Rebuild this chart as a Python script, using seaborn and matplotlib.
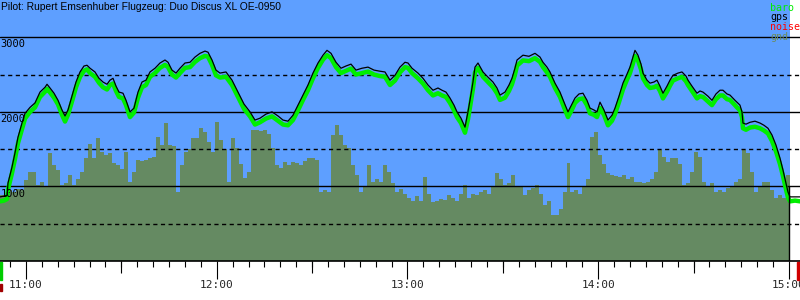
import numpy as np
import pandas as pd
import matplotlib
matplotlib.use("Agg")
import matplotlib.pyplot as plt
from matplotlib.patches import Rectangle
from matplotlib.ticker import FixedLocator
import seaborn as sns

sns.set_theme(style="white")
plt.rcParams['font.family'] = ['DejaVu Sans']

# ---------------- data ----------------
title = "Pilot: Rupert Emsenhuber Flugzeug: Duo Discus XL OE-0950"

# minutes after 11:00
minutes = [
    -8.18, -6.92, -5.98, -5.66, -4.40, -3.46, -2.52, -1.26, -0.31, 1.26,
    2.83, 4.40, 5.98, 6.61, 7.55, 8.81, 10.07, 11.32, 12.27, 13.21,
    14.47, 15.73, 16.99, 18.24, 19.19, 20.13, 21.70, 22.96, 24.22, 25.48,
    26.42, 27.37, 28.31, 29.25, 30.51, 31.46, 32.71, 33.97, 35.23, 36.49,
    37.75, 39.00, 40.58, 42.15, 43.72, 44.67, 45.92, 47.18, 48.44, 50.01,
    51.59, 53.16, 54.73, 56.30, 57.25, 58.51, 59.76, 61.02, 62.91, 64.80,
    66.68, 68.57, 70.46, 72.03, 73.60, 75.49, 77.38, 79.27, 80.84, 82.41,
    83.98, 85.56, 87.13, 88.70, 90.27, 91.85, 93.42, 94.68, 95.94, 97.51,
    99.08, 100.66, 102.23, 103.80, 105.69, 107.58, 109.46, 111.35, 112.92, 114.50,
    116.07, 117.64, 119.21, 120.16, 121.42, 123.30, 124.88, 126.45, 128.02, 129.59,
    130.85, 132.11, 133.37, 134.63, 135.57, 136.83, 138.09, 139.03, 139.66, 140.60,
    141.23, 142.18, 143.75, 145.32, 146.89, 148.15, 149.10, 150.67, 151.93, 152.87,
    153.81, 154.45, 156.33, 158.22, 160.11, 161.68, 162.62, 163.88, 164.82, 166.40,
    167.97, 169.23, 170.49, 171.74, 172.69, 173.95, 175.20, 176.46, 177.41, 178.66,
    179.61, 180.55, 181.81, 183.07, 184.33, 185.27, 186.53, 187.78, 189.04, 189.98,
    190.93, 191.56, 192.50, 193.45, 194.08, 195.34, 196.28, 197.54, 198.48, 199.42,
    200.37, 201.63, 202.57, 203.51, 205.09, 206.34, 207.60, 208.23, 209.49, 211.06,
    212.01, 212.95, 214.52, 215.78, 217.04, 218.30, 219.24, 220.50, 221.44, 223.02,
    223.64, 224.59, 225.22, 225.53, 226.48, 227.74, 229.31, 230.88, 232.14, 233.40,
    234.65, 235.91, 237.17, 238.11, 239.06, 239.69, 240.32, 241.89, 243.47,
]
gps = [
    860, 870, 880, 1045, 1260, 1450, 1660, 1850, 1980, 2060,
    2120, 2265, 2330, 2370, 2320, 2250, 2155, 2025, 1945, 2025,
    2210, 2400, 2535, 2615, 2625, 2585, 2535, 2450, 2400, 2370,
    2425, 2450, 2345, 2265, 2250, 2155, 2000, 2050, 2265, 2400,
    2425, 2535, 2585, 2655, 2695, 2665, 2560, 2520, 2585, 2655,
    2665, 2735, 2785, 2815, 2800, 2695, 2560, 2520, 2535, 2425,
    2265, 2105, 2000, 1890, 1915, 1970, 2000, 1945, 1890, 1875,
    1955, 2090, 2225, 2360, 2520, 2655, 2760, 2825, 2785, 2665,
    2585, 2615, 2640, 2560, 2585, 2600, 2560, 2545, 2535, 2425,
    2490, 2600, 2665, 2655, 2585, 2520, 2450, 2360, 2290, 2320,
    2290, 2265, 2185, 2090, 2000, 1915, 1795, 2000, 2155, 2400,
    2600, 2655, 2535, 2465, 2400, 2320, 2225, 2265, 2360, 2450,
    2585, 2695, 2760, 2745, 2785, 2735, 2665, 2600, 2535, 2385,
    2265, 2130, 2000, 2105, 2185, 2240, 2250, 2155, 2050, 2025,
    2000, 2130, 2025, 1890, 1955, 2050, 2210, 2385, 2505, 2600,
    2735, 2825, 2760, 2640, 2520, 2425, 2385, 2400, 2425, 2345,
    2250, 2345, 2425, 2490, 2520, 2535, 2480, 2425, 2345, 2250,
    2280, 2265, 2210, 2155, 2240, 2290, 2290, 2240, 2225, 2155,
    2130, 2090, 2000, 1850, 1835, 1860, 1875, 1850, 1820, 1780,
    1690, 1555, 1380, 1220, 1045, 925, 860, 860, 860,
]
baro = [
    800, 810, 830, 960, 1180, 1370, 1580, 1770, 1910, 2000,
    2060, 2200, 2270, 2310, 2260, 2190, 2100, 1960, 1870, 1960,
    2140, 2330, 2470, 2550, 2570, 2520, 2470, 2390, 2330, 2300,
    2360, 2380, 2280, 2200, 2180, 2090, 1930, 1990, 2190, 2330,
    2360, 2470, 2520, 2590, 2630, 2600, 2500, 2460, 2520, 2590,
    2600, 2670, 2720, 2750, 2740, 2630, 2490, 2460, 2470, 2360,
    2200, 2040, 1940, 1830, 1860, 1910, 1940, 1880, 1830, 1820,
    1890, 2020, 2160, 2290, 2450, 2590, 2700, 2760, 2720, 2600,
    2520, 2550, 2580, 2500, 2520, 2540, 2500, 2480, 2470, 2360,
    2420, 2530, 2600, 2590, 2520, 2450, 2380, 2290, 2220, 2250,
    2220, 2200, 2120, 2020, 1930, 1850, 1720, 1900, 2060, 2310,
    2530, 2590, 2470, 2400, 2330, 2250, 2160, 2190, 2280, 2370,
    2500, 2620, 2690, 2680, 2720, 2670, 2600, 2530, 2470, 2320,
    2200, 2060, 1930, 2030, 2120, 2170, 2180, 2090, 1980, 1960,
    1930, 2050, 1960, 1820, 1880, 1970, 2130, 2300, 2430, 2520,
    2650, 2750, 2690, 2570, 2450, 2360, 2320, 2330, 2350, 2280,
    2180, 2270, 2350, 2420, 2450, 2470, 2410, 2360, 2280, 2180,
    2210, 2200, 2140, 2090, 2170, 2220, 2220, 2170, 2160, 2090,
    2060, 2020, 1930, 1780, 1760, 1790, 1800, 1780, 1750, 1710,
    1610, 1470, 1300, 1140, 960, 850, 800, 810, 800,
]

# terrain elevation below the track (m), sampled evenly from track start to landing
gnd_start, gnd_end = -8.18, 240.3
gnd = [
    885, 885, 950, 930, 970, 950, 1085, 1195, 1190, 1020,
    1060, 1000, 1445, 1285, 1220, 1020, 1050, 1150, 1020, 1100,
    1195, 1375, 1575, 1375, 1645, 1465, 1420, 1445, 1310, 1290,
    1240, 1465, 1065, 1200, 1355, 1340, 1360, 1375, 1400, 1665,
    1555, 1845, 1555, 1540, 930, 1285, 1465, 1500, 1645, 1645,
    1780, 1735, 1600, 1465, 1865, 1620, 1500, 1065, 1645, 1510,
    1300, 1110, 1200, 1755, 1755, 1740, 1760, 1700, 1510, 1285,
    1250, 1330, 1285, 1330, 1310, 1290, 1340, 1375, 1380, 1350,
    930, 950, 930, 1690, 1820, 1690, 1555, 1510, 1285, 1150,
    930, 1000, 1285, 1065, 1100, 1065, 1285, 1200, 1050, 930,
    960, 900, 840, 800, 870, 800, 1130, 900, 795, 800,
    830, 820, 880, 850, 800, 900, 1020, 840, 900, 880,
    920, 950, 900, 1000, 1175, 1100, 1020, 1050, 1150, 1000,
    1000, 885, 950, 975, 1020, 900, 750, 800, 615, 615,
    700, 930, 1310, 930, 950, 900, 1000, 1100, 1665, 1735,
    1420, 1300, 1175, 1150, 1140, 1120, 1150, 1100, 1120, 1065,
    1065, 1050, 1065, 1100, 1200, 1490, 1400, 1330, 1375, 1375,
    1300, 1020, 1050, 1200, 1465, 1400, 1065, 1000, 1050, 930,
    950, 930, 980, 1000, 1065, 1100, 1490, 1450, 1200, 930,
    1000, 1065, 1065, 950, 840, 880, 850, 1150, 1150,
]

hour_ticks = [0, 60, 120, 180, 240]
hour_labels = ["11:00", "12:00", "13:00", "14:00", "15:00"]
half_hour_ticks = [30, 90, 150, 210]
five_min_ticks = list(range(-5, 245, 5))
solid_levels = [1000, 2000, 3000]
dashed_levels = [500, 1500, 2500]
legend_labels = ["baro", "gps", "noise", "gnd"]
landing_minute = 240

# ---------------- style ----------------
BLUE = "#5e9fff"
GND = "#658a62"
BARO = "#00ee00"
LEG_COLORS = ["#00ee00", "#000000", "#ff0000", "#6b8c5e"]
MONO = "DejaVu Sans Mono"

fig = plt.figure(figsize=(8, 3), dpi=100)
fig.patch.set_facecolor("white")
ax = fig.add_axes([0, 39 / 300, 1, 261 / 300])
ax.set_facecolor("white")
ax.set_xlim(-8.18, 243.47)
ax.set_ylim(0, 3500)
for s in ax.spines.values():
    s.set_visible(False)

gnd_minutes = np.linspace(gnd_start, gnd_end, len(gnd))
ax.axvspan(gnd_start, gnd_end, color=BLUE, lw=0, zorder=0)
ax.fill_between(gnd_minutes, 0, gnd, step="post", color=GND, lw=0, zorder=1)

for v in solid_levels:
    ax.axhline(v, color="black", lw=1.0, zorder=2)
for v in dashed_levels:
    ax.axhline(v, color="black", lw=1.0, ls=(0, (3, 2.5)), zorder=2)
ax.axhline(0, color="black", lw=1.2, zorder=5, clip_on=False)

df = pd.DataFrame({"t": minutes, "gps": gps, "baro": baro})
sns.lineplot(data=df, x="t", y="baro", color=BARO, lw=3.2, ax=ax, zorder=3,
             estimator=None, sort=False)
sns.lineplot(data=df, x="t", y="gps", color="black", lw=0.9, ax=ax, zorder=4,
             estimator=None, sort=False)
ax.vlines(landing_minute, 0, 1000, color="black", lw=1.0, zorder=4)
ax.set_xlabel("")
ax.set_ylabel("")

# x ticks
ax.xaxis.set_major_locator(FixedLocator(hour_ticks))
ax.set_xticklabels(hour_labels)
ax.xaxis.set_minor_locator(FixedLocator(five_min_ticks))
ax.tick_params(axis="x", which="major", direction="out", length=13, width=0.8,
               color="black", pad=1, labelsize=8, bottom=True)
ax.tick_params(axis="x", which="minor", direction="out", length=4.3, width=0.8,
               color="black", bottom=True)
for lab in ax.get_xticklabels():
    lab.set_family(MONO)
ax.set_yticks([])

sec = ax.secondary_xaxis("bottom")
sec.set_xticks(half_hour_ticks)
sec.tick_params(direction="out", length=8.6, width=0.8, color="black",
                labelbottom=False)
for s in sec.spines.values():
    s.set_visible(False)

# altitude labels
for v in solid_levels:
    ax.annotate(str(v), xy=(0, v), xycoords=("axes fraction", "data"),
                xytext=(0.5, -1.5), textcoords="offset points",
                ha="left", va="top", fontsize=7.5, family=MONO, color="black",
                zorder=6)

# title
fig.text(1 / 800, 1 - 7 / 300, title, ha="left", va="center", fontsize=7.4,
         family="Liberation Sans", color="black")

# legend
for i, (lab, c) in enumerate(zip(legend_labels, LEG_COLORS)):
    fig.text(770 / 800, 1 - (8 + 9.5 * i) / 300, lab, ha="left", va="center",
             fontsize=7.2, family=MONO, color=c)

# takeoff / landing markers
fig.patches.append(Rectangle((0, 20 / 300), 2 / 800, 18 / 300, color="#00cc00",
                             transform=fig.transFigure, figure=fig))
fig.patches.append(Rectangle((0, 9 / 300), 1.5 / 800, 7 / 300, color="#a00000",
                             transform=fig.transFigure, figure=fig))
fig.patches.append(Rectangle((797 / 800, 20 / 300), 3 / 800, 18 / 300, color="#d00000",
                             transform=fig.transFigure, figure=fig))

fig.savefig("out.png", dpi=100)
